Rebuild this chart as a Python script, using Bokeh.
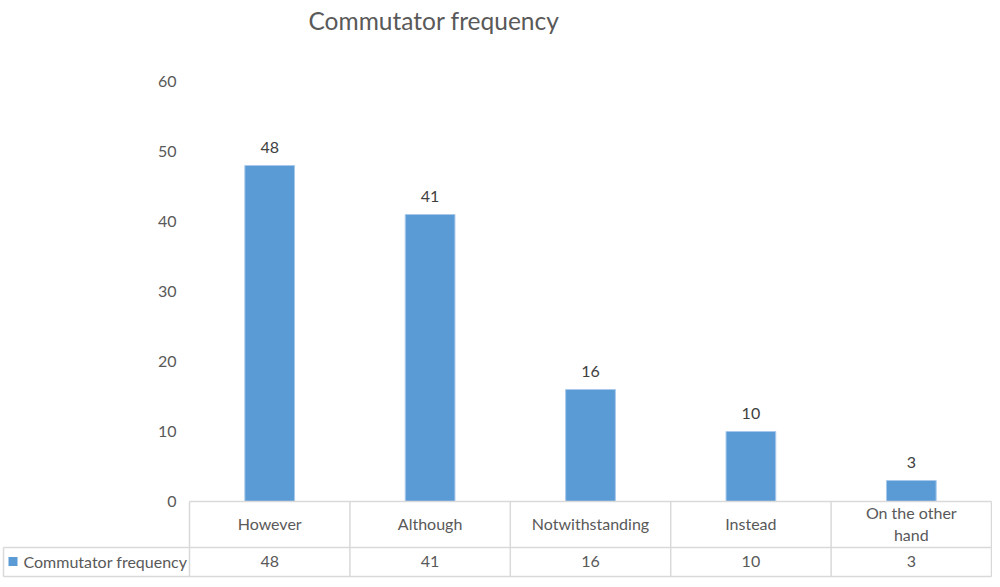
from bokeh.plotting import figure
from bokeh.models import Range1d, FixedTicker
from bokeh.core.properties import value
from bokeh.embed import file_html
from bokeh.resources import INLINE

# ---- data ----
categories = ["However", "Although", "Notwithstanding", "Instead", "On the other hand"]
category_labels = ["However", "Although", "Notwithstanding", "Instead", "On the other\nhand"]
frequency = [48, 41, 16, 10, 3]
y_ticks = [0, 10, 20, 30, 40, 50, 60]
series_name = "Commutator frequency"
title_text = "Commutator frequency"

# ---- style ----
FONT = "Lato"
GREY = "#595959"
BLUE = "#5B9BD5"
BORDER = "#D9D9D9"
FS = "16px"

n = len(categories)
xs = [i + 0.5 for i in range(n)]
values_txt = [str(v) for v in frequency]

p = figure(width=992, height=579, output_backend="svg", toolbar_location=None,
           x_range=Range1d(0, n), y_range=Range1d(0, 60),
           min_border_left=189, min_border_right=1, min_border_top=81, min_border_bottom=78)
p.outline_line_color = None
p.grid.visible = False
p.xaxis.visible = False
p.background_fill_color = "white"
p.border_fill_color = "white"

ya = p.yaxis[0]
ya.ticker = FixedTicker(ticks=y_ticks)
ya.axis_line_color = None
ya.major_tick_line_color = None
ya.minor_tick_line_color = None
ya.major_label_standoff = 7
ya.major_label_text_font = FONT
ya.major_label_text_font_size = FS
ya.major_label_text_color = GREY

# pixel distances converted to data units (for layout of texts outside the plot area)
px_y = 60 / 420.0
px_x = n / 802.0

# title
p.text(x=[119 * px_x], y=[60 + 61 * px_y], text=[title_text], text_align="left",
       text_baseline="middle", text_font=value(FONT), text_font_size="24.5px",
       text_color=GREY, level="overlay")

# bars
p.vbar(x=xs, top=frequency, width=0.31, fill_color=BLUE, line_color="#A9C9EC", line_width=1)

# data labels
p.text(x=xs, y=frequency, text=values_txt, y_offset=-18, text_align="center",
       text_baseline="middle", text_font=value(FONT), text_font_size=FS, text_color="#404040")

# ---- data table below the plot ----
row_sep = -46 * px_y
bottom = -75 * px_y
left_edge = -186 * px_x

# horizontal lines
p.segment(x0=[0, left_edge, left_edge], y0=[0, row_sep, bottom], x1=[n, n, n], y1=[0, row_sep, bottom],
          line_color=BORDER, line_width=1.5, level="overlay")
# vertical lines
p.segment(x0=list(range(n + 1)), y0=[0] * (n + 1), x1=list(range(n + 1)), y1=[bottom] * (n + 1),
          line_color=BORDER, line_width=1.5, level="overlay")
p.segment(x0=[left_edge], y0=[row_sep], x1=[left_edge], y1=[bottom],
          line_color=BORDER, line_width=1.5, level="overlay")

# category labels
p.text(x=xs, y=[-22 * px_y] * n, text=category_labels, text_align="center", text_baseline="middle",
       text_font=value(FONT), text_font_size=FS, text_color=GREY, level="overlay")
# values row
p.text(x=xs, y=[-60 * px_y] * n, text=values_txt, text_align="center", text_baseline="middle",
       text_font=value(FONT), text_font_size=FS, text_color=GREY, level="overlay")
# legend key
kx0, kx1 = -181 * px_x, -172 * px_x
ky0, ky1 = -64.5 * px_y, -55.5 * px_y
p.patch(x=[kx0, kx1, kx1, kx0], y=[ky0, ky0, ky1, ky1], fill_color=BLUE, line_color=None,
        level="overlay")
p.text(x=[-166 * px_x], y=[-60 * px_y], text=[series_name], text_align="left", text_baseline="middle",
       text_font=value(FONT), text_font_size=FS, text_color=GREY, level="overlay")

open("out.html", "w").write(file_html(p, INLINE))
